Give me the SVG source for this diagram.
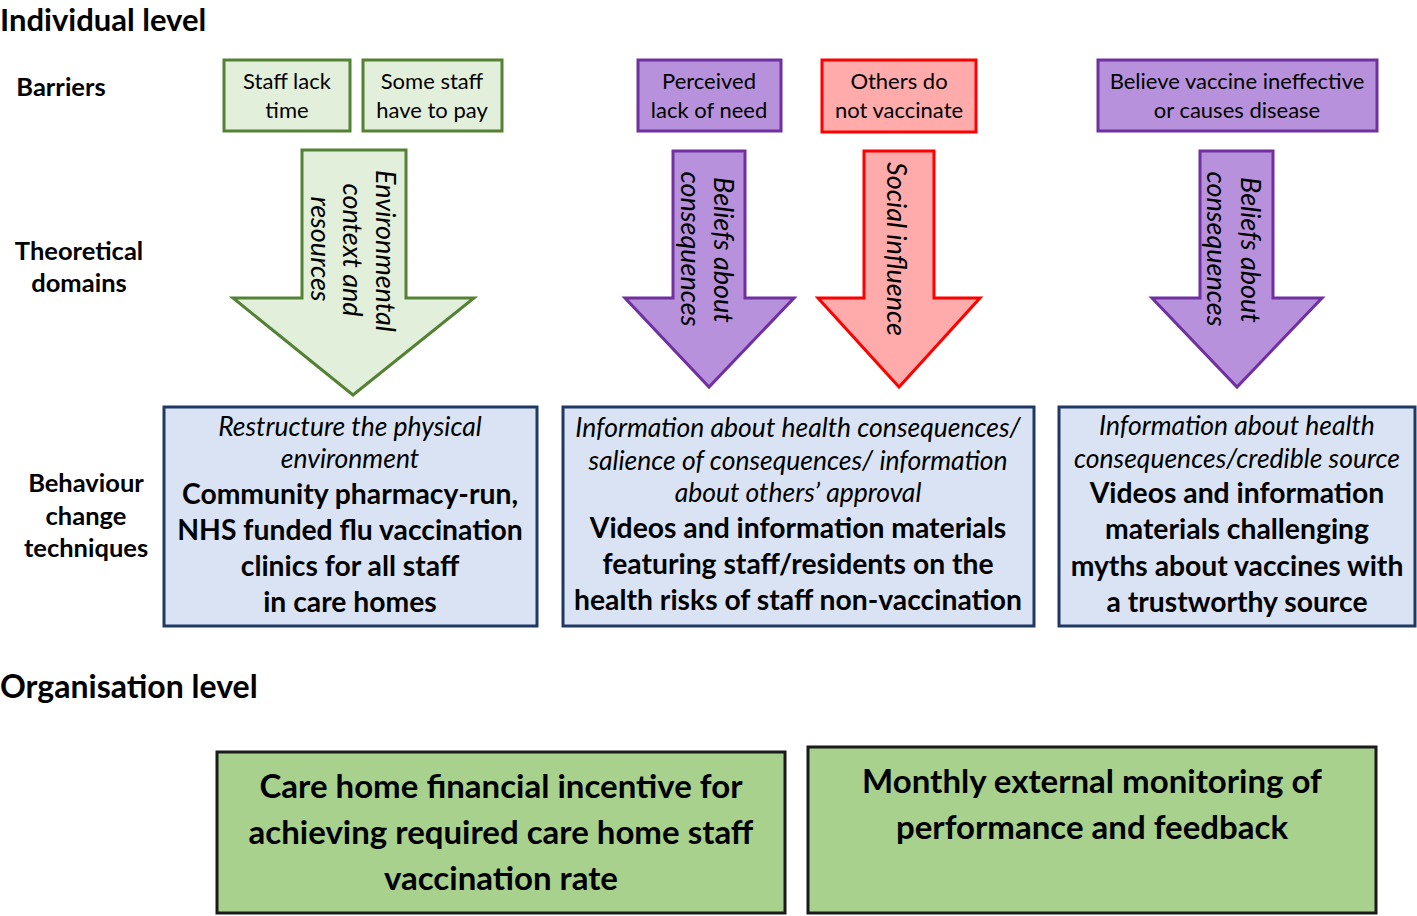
<svg xmlns="http://www.w3.org/2000/svg" width="1417" height="916" viewBox="0 0 1417 916">
<style>
text{font-family:Lato,"Open Sans","Liberation Sans",sans-serif;fill:#000}
.h{font-size:32px;font-weight:bold}
.lab{font-size:25.5px;font-weight:bold;text-anchor:middle}
.bar{font-size:22px;text-anchor:middle}
.dom{font-size:27px;font-style:italic;text-anchor:middle}
.it{font-size:26.5px;font-style:italic;text-anchor:middle}
.bd{font-size:28.3px;font-weight:bold;text-anchor:middle}
.org{font-size:33px;font-weight:bold;text-anchor:middle}
.g{fill:#e2efda;stroke:#548235;stroke-width:3}
.p{fill:#b791dc;stroke:#7030a0;stroke-width:3}
.r{fill:#ffabab;stroke:#ff0000;stroke-width:3}
.b{fill:#dae3f3;stroke:#1f3864;stroke-width:3}
.o{fill:#a9d18e;stroke:#1a1a1a;stroke-width:3}
</style>
<g id="headings">
<text class="h" x="0" y="31" style="font-size:31px">Individual level</text>
<text class="h" x="0" y="698">Organisation level</text>
<text class="lab" x="61" y="96">Barriers</text>
<text class="lab" x="79" y="260">Theoretical</text>
<text class="lab" x="79" y="292">domains</text>
<text class="lab" x="86" y="492">Behaviour</text>
<text class="lab" x="86" y="525">change</text>
<text class="lab" x="86" y="557">techniques</text>
</g>
<g id="barrier-time">
<rect class="g" x="224" y="60" width="126" height="71"/>
<text class="bar" x="287" y="89">Staff lack</text>
<text class="bar" x="287" y="118">time</text>
</g>
<g id="barrier-pay">
<rect class="g" x="363" y="60" width="139" height="71"/>
<text class="bar" x="432" y="89">Some staff</text>
<text class="bar" x="432" y="118">have to pay</text>
</g>
<g id="barrier-need">
<rect class="p" x="638" y="60" width="143" height="71"/>
<text class="bar" x="709" y="89">Perceived</text>
<text class="bar" x="709" y="118">lack of need</text>
</g>
<g id="barrier-others">
<rect class="r" x="822" y="60" width="154" height="72"/>
<text class="bar" x="899" y="89">Others do</text>
<text class="bar" x="899" y="118">not vaccinate</text>
</g>
<g id="barrier-believe">
<rect class="p" x="1098" y="60" width="279" height="71"/>
<text class="bar" x="1237" y="89">Believe vaccine ineffective</text>
<text class="bar" x="1237" y="118">or causes disease</text>
</g>
<g id="connectors">
<g id="arrow-env">
<path class="g" d="M302,150 H406 V298 H474 L353,395 L233,298 H302 Z"/>
<text class="dom" transform="translate(376,251) rotate(90)">Environmental</text>
<text class="dom" transform="translate(343,250) rotate(90)">context and</text>
<text class="dom" transform="translate(311,249) rotate(90)">resources</text>
</g>
<g id="arrow-beliefs1">
<path class="p" d="M673,151 H745 V298 H794 L709,387 L625,298 H673 Z"/>
<text class="dom" transform="translate(714,250) rotate(90)">Beliefs about</text>
<text class="dom" transform="translate(681,249) rotate(90)">consequences</text>
</g>
<g id="arrow-social">
<path class="r" d="M864,151 H934 V298 H980 L899,387 L818,298 H864 Z"/>
<text class="dom" transform="translate(887,249) rotate(90)">Social influence</text>
</g>
<g id="arrow-beliefs2">
<path class="p" d="M1200,151 H1273 V298 H1322 L1237,387 L1152,298 H1200 Z"/>
<text class="dom" transform="translate(1241,250) rotate(90)">Beliefs about</text>
<text class="dom" transform="translate(1207,249) rotate(90)">consequences</text>
</g>
</g>
<g id="bct-env">
<rect class="b" x="164" y="407" width="373" height="219"/>
<text class="it" x="350" y="436">Restructure the physical</text>
<text class="it" x="350" y="468">environment</text>
<text class="bd" x="350" y="504">Community pharmacy-run,</text>
<text class="bd" x="350" y="540">NHS funded flu vaccination</text>
<text class="bd" x="350" y="576">clinics for all staff</text>
<text class="bd" x="350" y="612">in care homes</text>
</g>
<g id="bct-info">
<rect class="b" x="563" y="407" width="471" height="219"/>
<text class="it" x="798" y="437">Information about health consequences/</text>
<text class="it" x="798" y="470">salience of consequences/ information</text>
<text class="it" x="798" y="502">about others’ approval</text>
<text class="bd" x="798" y="538">Videos and information materials</text>
<text class="bd" x="798" y="574">featuring staff/residents on the</text>
<text class="bd" x="798" y="610">health risks of staff non-vaccination</text>
</g>
<g id="bct-myths">
<rect class="b" x="1059" y="407" width="356" height="219"/>
<text class="it" x="1237" y="435">Information about health</text>
<text class="it" x="1237" y="468">consequences/credible source</text>
<text class="bd" x="1237" y="503">Videos and information</text>
<text class="bd" x="1237" y="539">materials challenging</text>
<text class="bd" x="1237" y="576">myths about vaccines with</text>
<text class="bd" x="1237" y="612">a trustworthy source</text>
</g>
<g id="org-incentive">
<rect class="o" x="217" y="752" width="568" height="161"/>
<text class="org" x="501" y="798">Care home financial incentive for</text>
<text class="org" x="501" y="844">achieving required care home staff</text>
<text class="org" x="501" y="890">vaccination rate</text>
</g>
<g id="org-monitoring">
<rect class="o" x="808" y="747" width="568" height="166"/>
<text class="org" x="1092" y="793">Monthly external monitoring of</text>
<text class="org" x="1092" y="839">performance and feedback</text>
</g>
</svg>
